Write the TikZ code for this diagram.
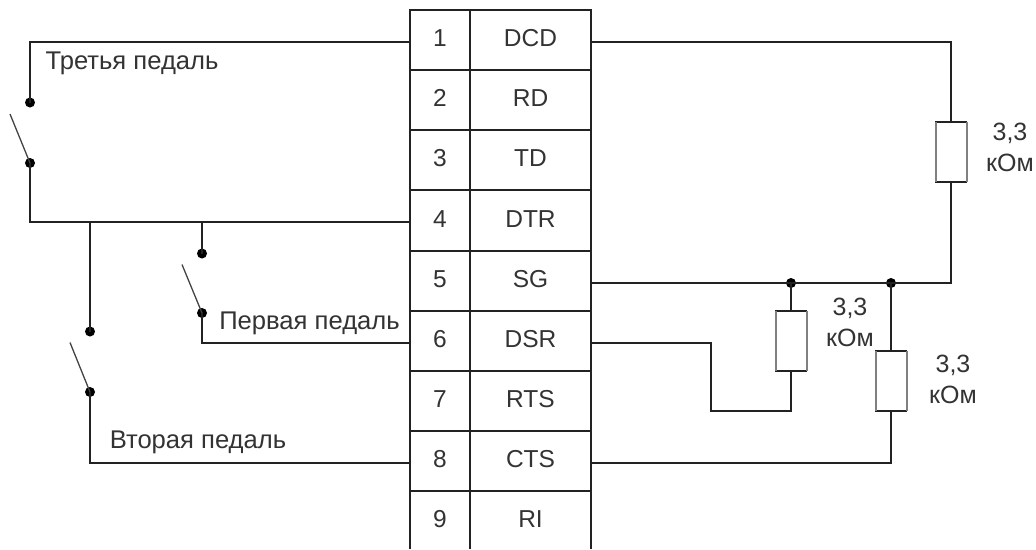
\documentclass[tikz,border=0pt]{standalone}
\usepackage{fontspec}
\setmainfont{Liberation Sans}
\definecolor{wire}{HTML}{222222}
\definecolor{txt}{HTML}{333333}
\tikzset{
  x=1pt,y=-1pt,
  wireline/.style={draw=wire,line width=1.4pt},
  cell/.style={draw=wire,line width=1.4pt,inner sep=0pt,outer sep=0pt,text=txt,font=\fontsize{24.5}{28}\selectfont,minimum height=60pt,anchor=center,text height=17pt,text depth=4pt},
  numcell/.style={cell,minimum width=60pt},
  namecell/.style={cell,minimum width=121pt},
  lastcell/.style={cell,draw=none},
  joint/.style={circle,fill=black,draw=none,inner sep=0pt,minimum width=10pt,minimum height=9pt},
  blade/.style={draw=wire!85!white,line width=1.3pt},
  resistor/.style={draw=wire,fill=white,line width=1.4pt,outer sep=0pt,minimum width=31pt,minimum height=60pt,inner sep=0pt},
  resside/.style={draw=gray,line width=2pt},
  lbl/.style={text=txt,font=\fontsize{25.6}{29}\selectfont,inner sep=0pt},
  vallbl/.style={lbl,align=center,font=\fontsize{25}{31}\selectfont},
}
\begin{document}
\begin{tikzpicture}
\useasboundingbox (0,0) rectangle (1036,549);
% table
\foreach \n/\t/\y in {1/DCD/40,2/RD/100,3/TD/160,4/DTR/220.5,5/SG/281,6/DSR/341,7/RTS/401,8/CTS/461}{
  \node[numcell] (n\n) at (440,\y) {\n};
  \node[namecell] (s\n) at (530.5,\y) {\t};
}
\node[lastcell,minimum width=60pt] (n9) at (440,521) {9};
\node[lastcell,minimum width=121pt] (s9) at (530.5,521) {RI};
\coordinate (b1) at (410,549);
\coordinate (b2) at (470,549);
\coordinate (b3) at (591,549);
\draw[wireline] (n8.south west) -- (b1);
\draw[wireline] (n8.south east) -- (b2);
\draw[wireline] (s8.south east) -- (b3);
% switch contacts
\node[joint] (a1) at (30,102.5) {};
\node[joint] (a2) at (30,163) {};
\node[joint] (f1) at (202,253.5) {};
\node[joint] (f2) at (202,313) {};
\node[joint] (v1) at (90,331.5) {};
\node[joint] (v2) at (90,392) {};
\coordinate (at) at (10,114);
\coordinate (ft) at (182,264.5);
\coordinate (vt) at (70,342.5);
\draw[blade] (a2.center) -- (at);
\draw[blade] (f2.center) -- (ft);
\draw[blade] (v2.center) -- (vt);
% left wires
\coordinate (w1) at (30,42);
\coordinate (w4) at (30,222);
\coordinate (w4a) at (90,222);
\coordinate (w4b) at (202,222);
\coordinate (w6) at (202,343);
\coordinate (w8) at (90,463);
\draw[wireline] (a1.center) -- (w1) -- (n1.west |- w1);
\draw[wireline] (a2.center) -- (w4) -- (n4.west |- w4);
\draw[wireline] (w4a) -- (v1.center);
\draw[wireline] (w4b) -- (f1.center);
\draw[wireline] (f2.center) -- (w6) -- (n6.west |- w6);
\draw[wireline] (v2.center) -- (w8) -- (n8.west |- w8);
% resistors
\node[resistor] (r1) at (951,152) {};
\node[resistor] (r2) at (791,341) {};
\node[resistor] (r3) at (891,381) {};
\foreach \r in {r1,r2,r3}{
  \draw[resside] (\r.north west) -- (\r.south west);
  \draw[resside] (\r.north east) -- (\r.south east);
}
% right wires
\node[joint] (j1) at (791,283) {};
\node[joint] (j2) at (891,283) {};
\coordinate (e1) at (951,42);
\coordinate (e5) at (951,283);
\coordinate (d1) at (711,343);
\coordinate (d2) at (711,411);
\coordinate (d3) at (791,411);
\coordinate (c1) at (891,463);
\draw[wireline] (s1.east |- e1) -- (e1) -- (r1.north);
\draw[wireline] (r1.south) -- (e5) -- (s5.east |- e5);
\draw[wireline] (j1.center) -- (r2.north);
\draw[wireline] (j2.center) -- (r3.north);
\draw[wireline] (s6.east |- d1) -- (d1) -- (d2) -- (d3) -- (r2.south);
\draw[wireline] (s8.east |- c1) -- (c1) -- (r3.south);
% labels
\node[lbl,anchor=center] (l3) at (132,63) {Третья педаль};
\node[lbl,anchor=center] (l1) at (309.5,323) {Первая педаль};
\node[lbl,anchor=center] (l2) at (198,442) {Вторая педаль};
\node[vallbl] (o1) at (1010,147) {3,3\\кОм};
\node[vallbl] (o2) at (850,322) {3,3\\кОм};
\node[vallbl] (o3) at (953,379) {3,3\\кОм};
\end{tikzpicture}
\end{document}
